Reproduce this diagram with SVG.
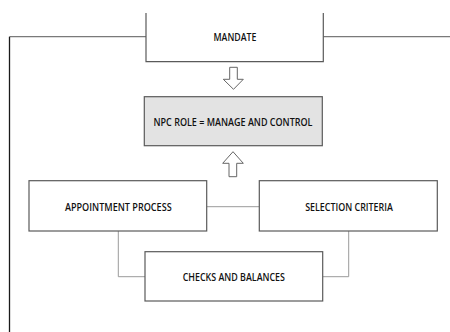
<svg xmlns="http://www.w3.org/2000/svg" width="450" height="332" viewBox="0 0 450 332">
<style>
.box{fill:#ffffff;stroke:#5a5a5a;stroke-width:1.2}
.shade{fill:#e3e3e3}
.conn{fill:none;stroke:#9a9a9a;stroke-width:1}
.frame{fill:none;stroke:#7a7a7a;stroke-width:1.2}
.arrow{fill:#ffffff;stroke:#666666;stroke-width:1}
.lbl{font-family:"Open Sans","Liberation Sans",sans-serif;font-size:9.8px;font-weight:600;fill:#111;text-anchor:middle}
</style>
<rect width="450" height="332" fill="#ffffff"/>
<g id="connectors">
<path class="frame" d="M9.5,36.7 H146 M323,36.7 H450"/>
<path d="M9.5,36.7 V332" fill="none" stroke="#1a1a1a" stroke-width="1.3"/>
<path class="conn" d="M206.7,206.7 H259.3"/>
<path class="conn" d="M118.3,231 V276.7 H145"/>
<path class="conn" d="M348.7,231 V276.7 H322.7"/>
<polygon class="arrow" points="229.7,67.3 237.3,67.3 237.3,79.3 243.3,79.3 233.5,89.3 223.3,79.3 229.7,79.3"/>
<polygon class="arrow" points="233,151.7 243.3,163.3 236.7,163.3 236.7,176.7 229,176.7 229,163.3 222.7,163.3"/>
</g>
<g id="mandate">
<rect x="146" y="10" width="177.3" height="51.7" fill="#ffffff"/>
<path d="M146,13 V61.7 H323.3 V13" fill="none" stroke="#5a5a5a" stroke-width="1.2"/>
<text class="lbl" x="235" y="41.3" textLength="43" lengthAdjust="spacingAndGlyphs">MANDATE</text>
</g>
<g id="npc-role">
<rect class="box shade" x="144.3" y="96.7" width="178" height="49"/>
<text class="lbl" x="233" y="125.7" textLength="159" lengthAdjust="spacingAndGlyphs">NPC ROLE = MANAGE AND CONTROL</text>
</g>
<g id="appointment">
<rect class="box" x="29" y="180.7" width="177.7" height="50.3"/>
<text class="lbl" x="118.3" y="210.7" textLength="106.7" lengthAdjust="spacingAndGlyphs">APPOINTMENT PROCESS</text>
</g>
<g id="selection">
<rect class="box" x="259.3" y="180.7" width="178" height="50.3"/>
<text class="lbl" x="349" y="210.7" textLength="87.7" lengthAdjust="spacingAndGlyphs">SELECTION CRITERIA</text>
</g>
<g id="checks">
<rect class="box" x="145" y="251.7" width="177.7" height="49.3"/>
<text class="lbl" x="233.8" y="281.2" textLength="102.3" lengthAdjust="spacingAndGlyphs">CHECKS AND BALANCES</text>
</g>
</svg>
